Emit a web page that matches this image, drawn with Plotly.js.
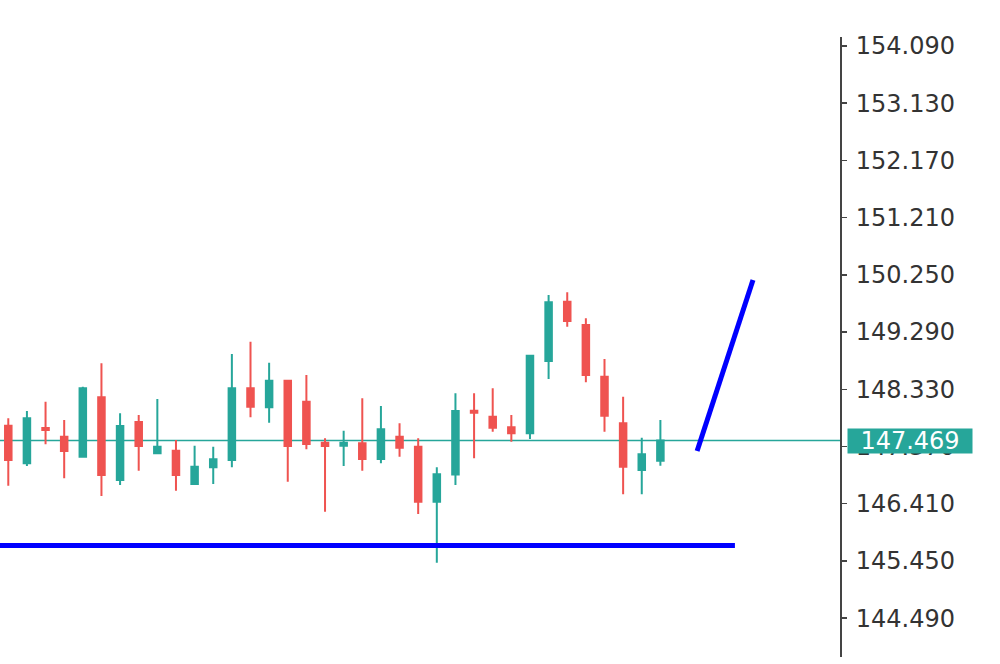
<!DOCTYPE html>
<html>
<head>
<meta charset="utf-8">
<script src="https://cdn.plot.ly/plotly-3.0.1.min.js"></script>
<style>
  html, body { margin: 0; padding: 0; background: #ffffff; }
  #chart { width: 1000px; height: 664px; }
</style>
</head>
<body>
<div id="chart"></div>
<script>
// Candle index (bar number)
const barIndex = [0,1,2,3,4,5,6,7,8,9,10,11,12,13,14,15,16,17,18,19,20,21,22,23,24,25,26,27,28,29,30,31,32,33,34,35];
const openPrices  = [147.719,147.088,147.681,147.535,147.199,148.196,146.808,147.781,147.256,147.300,146.741,147.021,147.144,148.347,148.028,148.474,148.122,147.434,147.384,147.424,147.160,147.535,147.367,146.444,146.900,147.971,147.870,147.692,147.592,148.805,149.800,149.409,148.541,147.759,146.976,147.132];
const highPrices  = [147.843,147.966,148.122,147.815,148.374,148.766,147.927,147.899,148.167,147.479,147.384,147.367,148.922,149.129,148.776,148.486,148.570,147.508,147.635,148.179,148.050,147.759,147.508,147.021,148.263,148.263,148.347,147.899,148.905,149.912,149.957,149.521,148.838,148.206,147.518,147.815];
const lowPrices   = [146.712,147.043,147.407,146.837,147.194,146.540,146.724,146.964,147.244,146.629,146.724,146.741,147.021,147.860,147.770,146.780,147.323,146.276,147.043,146.964,147.088,147.199,146.238,145.420,146.724,147.172,147.618,147.451,147.496,148.503,149.380,148.447,147.618,146.568,146.568,147.048];
const closePrices = [147.144,147.843,147.647,147.295,148.347,146.892,147.714,147.379,147.367,146.892,147.031,147.155,148.347,148.038,148.474,147.379,147.412,147.379,147.434,147.160,147.659,147.350,146.444,146.904,147.966,147.937,147.686,147.592,148.894,149.790,149.476,148.570,147.887,147.031,147.239,147.469];

// Drawn lines (support level and trend line), in bar index / price units
const supportX = [-0.5, 39.0];
const supportY = [145.709, 145.709];
const trendX = [36.97, 39.97];
const trendY = [147.295, 150.164];

// Price axis ticks
const tickValues = [144.490,145.450,146.410,147.370,148.330,149.290,150.250,151.210,152.170,153.130,154.090];
const tickLabels = ["144.490","145.450","146.410","147.370","148.330","149.290","150.250","151.210","152.170","153.130","154.090"];

const currentPrice = closePrices[closePrices.length - 1];

const UP = '#26a69a';
const DOWN = '#ef5350';
const FONT = 'DejaVu Sans, Verdana, sans-serif';

const traces = [
  {
    type: 'candlestick',
    x: barIndex,
    open: openPrices, high: highPrices, low: lowPrices, close: closePrices,
    increasing: { line: { color: UP, width: 2 }, fillcolor: UP },
    decreasing: { line: { color: DOWN, width: 2 }, fillcolor: DOWN },
    whiskerwidth: 0,
    hoverinfo: 'skip',
    showlegend: false
  },
  {
    type: 'scatter', mode: 'lines',
    x: supportX, y: supportY,
    line: { color: '#0000ff', width: 5 },
    hoverinfo: 'skip', showlegend: false
  },
  {
    type: 'scatter', mode: 'lines',
    x: trendX, y: trendY,
    line: { color: '#0000ff', width: 5 },
    hoverinfo: 'skip', showlegend: false
  }
];

const layout = {
  width: 1000, height: 664,
  margin: { l: 0, r: 160, t: 37, b: 7, pad: 0 },
  paper_bgcolor: '#ffffff',
  plot_bgcolor: '#ffffff',
  showlegend: false,
  boxgap: 0.5,
  xaxis: {
    type: 'linear',
    range: [-0.445, 44.64],
    visible: false,
    showgrid: false,
    zeroline: false,
    rangeslider: { visible: false },
    fixedrange: true
  },
  yaxis: {
    side: 'right',
    range: [143.838, 154.241],
    showgrid: false,
    zeroline: false,
    showline: true,
    linecolor: '#444444',
    linewidth: 2,
    ticks: 'outside',
    ticklen: 5,
    tickwidth: 1.5,
    tickcolor: '#444444',
    tickmode: 'array',
    tickvals: tickValues,
    ticktext: tickLabels,
    ticklabelstandoff: 4,
    tickfont: { family: FONT, size: 24, color: '#333333' },
    fixedrange: true
  },
  shapes: [
    {
      type: 'line', xref: 'paper', yref: 'y',
      x0: 0, x1: 1, y0: currentPrice, y1: currentPrice,
      line: { color: UP, width: 1.5 },
      layer: 'below'
    }
  ],
  annotations: [
    {
      xref: 'paper', yref: 'y',
      x: 847 / 840, y: currentPrice,
      xanchor: 'left', yanchor: 'middle',
      text: currentPrice.toFixed(3),
      showarrow: false,
      bgcolor: UP,
      font: { family: FONT, size: 24, color: '#ffffff' },
      width: 120, height: 20,
      borderpad: 2,
      align: 'center'
    }
  ]
};

Plotly.newPlot('chart', traces, layout, { displayModeBar: false, staticPlot: true });
</script>
</body>
</html>
